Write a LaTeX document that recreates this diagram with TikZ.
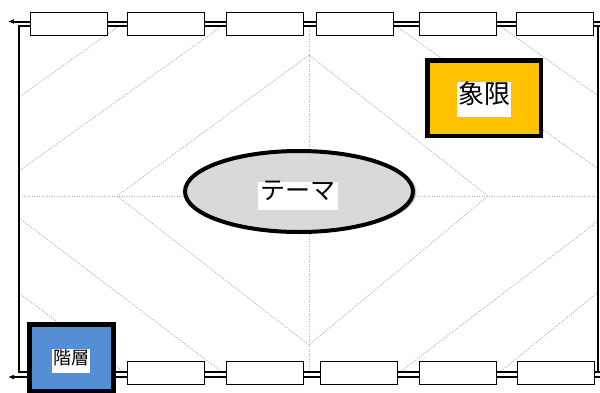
\documentclass[tikz,border=0pt]{standalone}
\usepackage{fontspec}
\newfontfamily\jp{Noto Sans CJK JP}
\usetikzlibrary{arrows.meta,shapes.geometric}
\definecolor{quadorange}{HTML}{FFC000}
\definecolor{tierblue}{HTML}{558ED5}
\definecolor{themegray}{HTML}{D9D9D9}
\begin{document}
\begin{tikzpicture}[x=1pt,y=-1pt,
  guide/.style={draw=gray!60, dash pattern=on 1.2pt off 1.3pt, line width=0.8pt},
  rail/.style={draw=black, line width=2pt},
  railarrow/.style={rail, -{Latex[length=6pt,width=5pt]}},
  cell/.style={draw=black, fill=white, line width=1.2pt, minimum width=76.5pt, minimum height=22.5pt, inner sep=0pt, anchor=north west},
  tag/.style={fill=white, inner sep=0pt, text height=.88em, text depth=.12em, align=center}
]
\useasboundingbox (0,0) rectangle (600,392);

% guide lines (dotted)
\coordinate (dT) at (309,55);
\coordinate (dL) at (117,196);
\coordinate (dB) at (309,345);
\coordinate (dR) at (488,196);
\draw[guide] (dT) -- (dL) -- (dB) -- (dR) -- cycle;
\draw[guide] (19,196) -- (597,196);
\draw[guide] (309,26) -- (309,372);
\draw[guide] (119,26) -- (19,97);
\draw[guide] (222,26) -- (19,171);
\draw[guide] (396,26) -- (597,168);
\draw[guide] (500,26) -- (597,95);
\draw[guide] (19,218) -- (222,372);
\draw[guide] (19,293) -- (124,372);
\draw[guide] (597,222) -- (400,372);
\draw[guide] (597,293) -- (500,372);

% frame rails
\coordinate (tl) at (19,26);
\coordinate (tr) at (597.5,26);
\coordinate (bl) at (19,372);
\coordinate (br) at (597.5,372);
\coordinate (ti) at (600,26);
\coordinate (bi) at (600,372);
\coordinate (te) at (600,21.5);
\coordinate (ta) at (8,21.5);
\coordinate (be) at (600,377);
\coordinate (ba) at (8,377);
\draw[railarrow] (te) -- (ta);
\draw[railarrow] (be) -- (ba);
\draw[rail] (ti) -- (tl) -- (bl) -- (bi);
\draw[rail] (tr) -- (br);

% top cells
\node[cell] (t1) at (30,12) {};
\node[cell] (t2) at (127,12) {};
\node[cell] (t3) at (226,12) {};
\node[cell] (t4) at (316,12) {};
\node[cell] (t5) at (419,12) {};
\node[cell] (t6) at (516,12) {};
% bottom cells
\node[cell] (b2) at (127,361) {};
\node[cell] (b3) at (226,361) {};
\node[cell] (b4) at (320,361) {};
\node[cell] (b5) at (419,361) {};
\node[cell] (b6) at (517,361) {};

% quadrant box
\node[draw=black, line width=4.5pt, fill=quadorange, minimum width=113.5pt, minimum height=75.5pt, inner sep=0pt] (quad) at (484,98) {};
\node[tag, font=\jp\fontsize{26}{26}\selectfont, minimum width=54pt, minimum height=35pt] (quadlabel) at (484,99.5) {象限};

% theme ellipse
\node[ellipse, fill=gray!45, minimum width=229pt, minimum height=81pt, inner sep=0pt] (themeshadow) at (302,192.5) {};
\node[ellipse, draw=black, line width=4pt, fill=themegray, minimum width=228pt, minimum height=81pt, inner sep=0pt] (theme) at (299,191.5) {};
\node[tag, font=\jp\fontsize{25}{25}\selectfont, minimum width=80pt, minimum height=28pt] (themelabel) at (298,196) {テーマ};

% tier box
\node[draw=black, line width=5pt, fill=tierblue, minimum width=84pt, minimum height=67pt, inner sep=0pt] (tier) at (71.5,358) {};
\node[tag, font=\jp\fontsize{18}{18}\selectfont, minimum width=38pt, minimum height=24pt] (tierlabel) at (71,361) {階層};
\end{tikzpicture}
\end{document}
